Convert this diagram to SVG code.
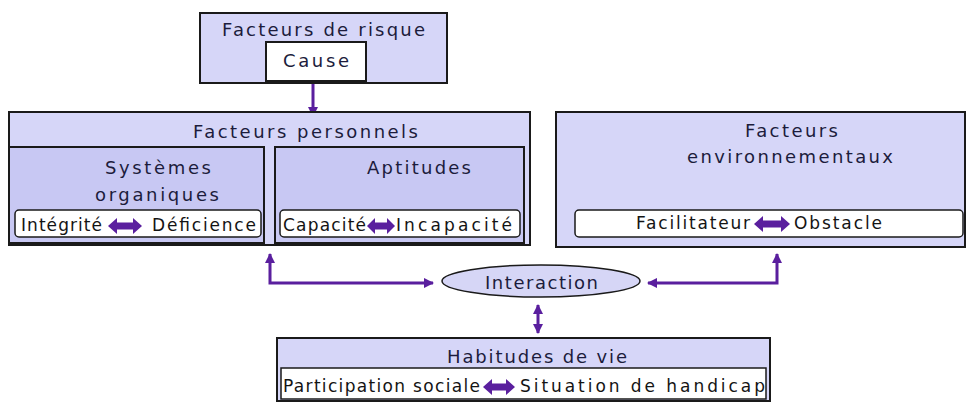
<svg xmlns="http://www.w3.org/2000/svg" width="966" height="403" viewBox="0 0 966 403">
<defs>
<style>
.box{fill:#d6d6f8;stroke:#1a1a1a;stroke-width:2}
.inner{fill:#c8c8f3;stroke:#1a1a1a;stroke-width:2}
.wbox{fill:#ffffff;stroke:#1a1a1a;stroke-width:1.5}
.t{font-family:"DejaVu Sans","Liberation Sans",sans-serif;font-size:18px;fill:#1c1c3c;text-anchor:middle}
.tl{font-family:"DejaVu Sans","Liberation Sans",sans-serif;font-size:17px;fill:#141414;text-anchor:middle}
.con{fill:none;stroke:#5a1f9e;stroke-width:3}
.dbl{fill:#5a1f9e}
</style>
<marker id="ah" viewBox="0 0 10 10" refX="9" refY="5" markerWidth="3.5" markerHeight="3.5" orient="auto-start-reverse" markerUnits="strokeWidth">
<path d="M0,0 L10,5 L0,10 Z" fill="#5a1f9e"/>
</marker>
</defs>
<rect width="966" height="403" fill="#ffffff"/>

<g id="connectors">
<line class="con" x1="313" y1="82" x2="313" y2="116" marker-end="url(#ah)"/>
<line class="con" x1="240" y1="181" x2="306" y2="181" marker-end="url(#ah)"/>
<path class="con" d="M270,254 V283 H433" marker-start="url(#ah)" marker-end="url(#ah)"/>
<path class="con" d="M648,283 H777 V254" marker-start="url(#ah)" marker-end="url(#ah)"/>
<line class="con" x1="538" y1="305" x2="538" y2="333" marker-start="url(#ah)" marker-end="url(#ah)"/>
</g>

<g id="facteurs-risque">
<rect class="box" x="200" y="13" width="247" height="70"/>
<text class="t" x="323.5" y="36" textLength="203" lengthAdjust="spacing">Facteurs de risque</text>
<rect x="266" y="42" width="100" height="39" fill="#ffffff" stroke="#1a1a1a" stroke-width="2"/>
<text class="t" x="316" y="67" textLength="66" lengthAdjust="spacing">Cause</text>
</g>

<g id="facteurs-personnels">
<rect class="box" x="9" y="112" width="521" height="133"/>
<text class="t" x="305.5" y="138" textLength="225" lengthAdjust="spacing">Facteurs personnels</text>
</g>

<g id="systemes-organiques">
<rect class="inner" x="9" y="147" width="255" height="96"/>
<text class="t" x="158" y="174" textLength="106" lengthAdjust="spacing">Systèmes</text>
<text class="t" x="157" y="201" textLength="124" lengthAdjust="spacing">organiques</text>
<rect class="wbox" x="15" y="210" width="246" height="27" rx="4"/>
<text class="tl" x="61.5" y="231" textLength="81" lengthAdjust="spacing">Intégrité</text>
<path class="dbl" d="M108,226 L117,218 L117,222.5 L133,222.5 L133,218 L142,226 L133,234 L133,229.5 L117,229.5 L117,234 Z"/>
<text class="tl" x="204" y="231" textLength="104" lengthAdjust="spacing">Déficience</text>
</g>

<g id="aptitudes">
<rect class="inner" x="275" y="147" width="249" height="96"/>
<text class="t" x="419" y="174" textLength="104" lengthAdjust="spacing">Aptitudes</text>
<rect class="wbox" x="280" y="210" width="240" height="27" rx="4"/>
<text class="tl" x="324.5" y="231" textLength="83" lengthAdjust="spacing">Capacité</text>
<path class="dbl" d="M367,226 L375,218 L375,222.5 L387,222.5 L387,218 L395,226 L387,234 L387,229.5 L375,229.5 L375,234 Z"/>
<text class="tl" x="454" y="231" textLength="116" lengthAdjust="spacing">Incapacité</text>
</g>

<g id="facteurs-environnementaux">
<rect class="box" x="556" y="112" width="409" height="135"/>
<text class="t" x="791.5" y="137" textLength="93" lengthAdjust="spacing">Facteurs</text>
<text class="t" x="790" y="163" textLength="206" lengthAdjust="spacing">environnementaux</text>
<rect class="wbox" x="575" y="210" width="388" height="27" rx="4"/>
<text class="tl" x="693" y="229" textLength="114" lengthAdjust="spacing">Facilitateur</text>
<path class="dbl" d="M754,224 L763,216 L763,220.5 L781,220.5 L781,216 L790,224 L781,232 L781,227.5 L763,227.5 L763,232 Z"/>
<text class="tl" x="838" y="229" textLength="88" lengthAdjust="spacing">Obstacle</text>
</g>

<g id="interaction">
<ellipse cx="541" cy="281" rx="99" ry="16" fill="#d6d6f6" stroke="#1a1a1a" stroke-width="1.5"/>
<text class="t" x="541.5" y="289" textLength="113" lengthAdjust="spacing">Interaction</text>
</g>

<g id="habitudes-de-vie">
<rect class="box" x="277" y="338" width="493" height="63"/>
<text class="t" x="537" y="363" textLength="180" lengthAdjust="spacing">Habitudes de vie</text>
<rect class="wbox" x="281" y="368" width="485" height="31"/>
<text class="tl" x="381.5" y="392" textLength="197" lengthAdjust="spacing">Participation sociale</text>
<path class="dbl" d="M483,387 L492,379 L492,383.5 L506,383.5 L506,379 L515,387 L506,395 L506,390.5 L492,390.5 L492,395 Z"/>
<text class="tl" x="642.5" y="392" textLength="245" lengthAdjust="spacing">Situation de handicap</text>
</g>
</svg>
